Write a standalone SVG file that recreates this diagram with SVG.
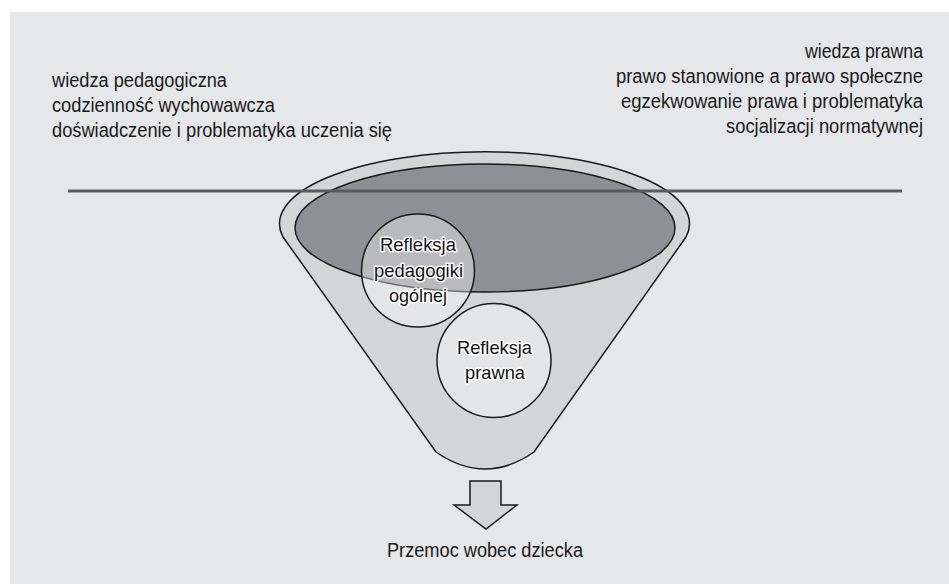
<svg xmlns="http://www.w3.org/2000/svg" width="949" height="584" viewBox="0 0 949 584">
<style>
text{font-family:"Liberation Sans",Arial,sans-serif;font-size:20px;fill:#1a1a1a}
.halo{font-size:19px;paint-order:stroke;stroke:#ffffff;stroke-width:3px;stroke-linejoin:round;fill:#111}
.ln{stroke:#1a1a1a;stroke-width:1.5;}
.bubble{fill:#ffffff;fill-opacity:0.38;stroke:#1a1a1a;stroke-width:1.5}
</style>
<rect x="0" y="0" width="949" height="584" fill="#ffffff"/>
<rect x="10" y="12" width="939" height="572" fill="#e6e7e8"/>
<g id="left-text">
<text x="52" y="87" textLength="175" lengthAdjust="spacingAndGlyphs">wiedza pedagogiczna</text>
<text x="52" y="112" textLength="223" lengthAdjust="spacingAndGlyphs">codzienność wychowawcza</text>
<text x="52" y="137" textLength="340" lengthAdjust="spacingAndGlyphs">doświadczenie i problematyka uczenia się</text>
</g>
<g id="right-text">
<text x="805" y="58" textLength="118" lengthAdjust="spacingAndGlyphs">wiedza prawna</text>
<text x="616" y="83" textLength="307" lengthAdjust="spacingAndGlyphs">prawo stanowione a prawo społeczne</text>
<text x="621" y="108" textLength="302" lengthAdjust="spacingAndGlyphs">egzekwowanie prawa i problematyka</text>
<text x="726" y="133" textLength="197" lengthAdjust="spacingAndGlyphs">socjalizacji normatywnej</text>
</g>
<g id="funnel">
<path class="ln" fill="#d4d5d7" d="M283 237 A205 72 0 1 1 686 237 L534 452 Q485 486 436 452 Z"/>
<ellipse class="ln" cx="485" cy="228" rx="190" ry="64" fill="#8f9095"/>
</g>
<g id="divider">
<line x1="68" y1="191" x2="902" y2="191" stroke="#5a5b5e" stroke-width="3"/>
</g>
<g id="node-pedagogika">
<circle class="bubble" cx="418" cy="270.5" r="56.5"/>
<text class="halo" x="380" y="251" textLength="76" lengthAdjust="spacingAndGlyphs">Refleksja</text>
<text class="halo" x="374" y="277" textLength="89" lengthAdjust="spacingAndGlyphs">pedagogiki</text>
<text class="halo" x="389" y="302" textLength="58" lengthAdjust="spacingAndGlyphs">ogólnej</text>
</g>
<g id="node-prawna">
<circle class="bubble" cx="494" cy="360.5" r="57"/>
<text class="halo" x="457" y="354" textLength="75" lengthAdjust="spacingAndGlyphs">Refleksja</text>
<text class="halo" x="465" y="379" textLength="60" lengthAdjust="spacingAndGlyphs">prawna</text>
</g>
<g id="connectors">
<path class="ln" fill="#d4d5d7" d="M470 481 L501 481 L501 505 L517 505 L486 529 L454 505 L470 505 Z"/>
</g>
<g id="result">
<text x="387" y="557" textLength="196" lengthAdjust="spacingAndGlyphs">Przemoc wobec dziecka</text>
</g>
</svg>
